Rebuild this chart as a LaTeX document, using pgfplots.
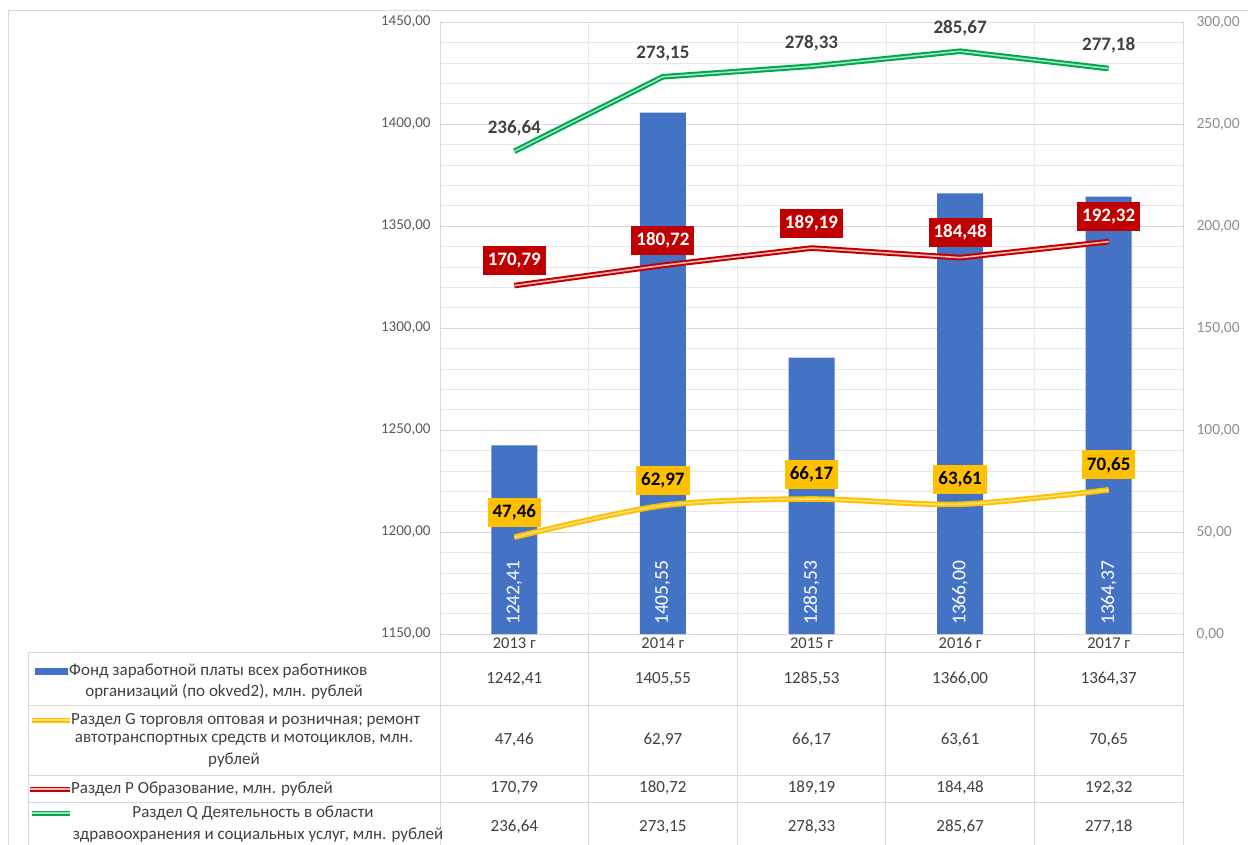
\documentclass[border=0pt]{standalone}
\usepackage{fontspec}
\setmainfont{Carlito}
\usepackage{pgfplots}
\pgfplotsset{compat=1.18}
\definecolor{barblue}{HTML}{4472C4}
\definecolor{gold}{HTML}{FFC000}
\definecolor{goldin}{HTML}{FFE07A}
\definecolor{dred}{HTML}{C00000}
\definecolor{redin}{HTML}{F4B6B6}
\definecolor{xgreen}{HTML}{00A651}
\definecolor{greenin}{HTML}{9FE3BC}
\definecolor{lefttick}{HTML}{595959}
\definecolor{righttick}{HTML}{8C8C8C}
\definecolor{gridc}{HTML}{D9D9D9}
\definecolor{txt}{HTML}{404040}
\newcommand{\fmt}[1]{\pgfmathprintnumber[fixed,fixed zerofill,precision=2,use comma,1000 sep={},assume math mode=true]{#1}}
\pgfplotsset{
  numfmt/.style={/pgf/number format/fixed, /pgf/number format/fixed zerofill,
    /pgf/number format/precision=2, /pgf/number format/use comma,
    /pgf/number format/1000 sep={}, /pgf/number format/assume math mode=true},
}

\begin{document}
\begin{tikzpicture}[x=1pt,y=1pt]
\path[use as bounding box] (0,0) rectangle (1248,-845);
\draw[gridc, line width=0.8pt] (8,-845) -- (8,-10) -- (1248,-10);

% ---------- left axis: bars ----------
\begin{axis}[
  at={(440pt,-634pt)}, anchor=south west,
  width=743pt, height=612pt, scale only axis,
  xmin=-0.5, xmax=4.5, ymin=1150, ymax=1450,
  xtick={0,1,2,3,4},
  xticklabels={2013 г,2014 г,2015 г,2016 г,2017 г},
  minor xtick={0.5,1.5,2.5,3.5},
  xminorgrids,
  ytick distance=50, minor y tick num=4,
  ymajorgrids, yminorgrids,
  major grid style={gridc, line width=0.8pt},
  minor grid style={gridc!60, line width=0.6pt},
  tick style={draw=none},
  axis line style={gridc, line width=0.8pt},
  numfmt,
  yticklabel style={font=\fontsize{15}{17}\selectfont, text=lefttick, xshift=-6pt},
  xticklabel style={font=\fontsize{16.5}{19}\selectfont, text=txt, anchor=base, inner sep=0pt, yshift=-14pt},
]
\addplot[ybar, bar width=46pt, fill=barblue, draw=none]
  coordinates {(0,1242.41) (1,1405.55) (2,1285.53) (3,1366.00) (4,1364.37)};
\addplot[draw=none, forget plot, point meta=explicit,
  nodes near coords={\fmt{\pgfplotspointmeta}},
  nodes near coords style={rotate=90, anchor=west, text=white,
    font=\fontsize{19.5}{21}\selectfont, inner xsep=9pt, inner ysep=0pt}]
  coordinates {(0,1150) [1242.41] (1,1150) [1405.55] (2,1150) [1285.53] (3,1150) [1366.00] (4,1150) [1364.37]};
\end{axis}

% ---------- right axis: lines ----------
\begin{axis}[
  at={(440pt,-634pt)}, anchor=south west,
  width=743pt, height=612pt, scale only axis,
  xmin=-0.5, xmax=4.5, ymin=0, ymax=300,
  axis x line=none, axis y line*=right,
  ytick distance=50,
  tick style={draw=none},
  axis line style={gridc, line width=0.8pt},
  numfmt,
  yticklabel style={font=\fontsize{15.5}{17}\selectfont, text=righttick, xshift=10pt},
  clip=false,
]
\addplot[gold, line width=2pt, double=goldin, double distance=1.6pt, line join=round, smooth, tension=0.5, mark=none,
  nodes near coords={\fmt{\pgfplotspointmeta}},
  nodes near coords style={anchor=center, yshift=25pt, fill=gold, text=black,
    font=\bfseries\fontsize{19}{21}\selectfont, inner xsep=5pt, minimum height=29pt}]
  coordinates {(0,47.46) (1,62.97) (2,66.17) (3,63.61) (4,70.65)};
\addplot[dred, line width=2pt, double=redin, double distance=1.6pt, line join=round, mark=none,
  nodes near coords={\fmt{\pgfplotspointmeta}},
  nodes near coords style={anchor=center, yshift=25pt, fill=dred, text=white,
    font=\bfseries\fontsize{19}{21}\selectfont, inner xsep=5pt, minimum height=29pt}]
  coordinates {(0,170.79) (1,180.72) (2,189.19) (3,184.48) (4,192.32)};
\addplot[xgreen, line width=2pt, double=greenin, double distance=1.6pt, line join=round, mark=none,
  nodes near coords={\fmt{\pgfplotspointmeta}},
  nodes near coords style={anchor=center, yshift=23pt, text=txt,
    font=\bfseries\fontsize{19}{21}\selectfont}]
  coordinates {(0,236.64) (1,273.15) (2,278.33) (3,285.67) (4,277.18)};
\end{axis}

% ---------- data table ----------
\begin{scope}[gridc, line width=0.8pt]
\foreach \yy in {652,705,775,802} \draw (28,-\yy) -- (1183,-\yy);
\draw (28,-652) -- (28,-845);
\foreach \xx in {440,588.6,737.2,885.8,1034.4,1183} \draw (\xx,-634) -- (\xx,-845);
\end{scope}

\begin{scope}[font=\fontsize{17}{20}\selectfont, text=txt]
\foreach \xx/\a/\b/\c/\d in {514.3/1242.41/47.46/170.79/236.64,
    662.9/1405.55/62.97/180.72/273.15,
    811.5/1285.53/66.17/189.19/278.33,
    960.1/1366.00/63.61/184.48/285.67,
    1108.7/1364.37/70.65/192.32/277.18}{
  \node at (\xx,-679) {\fmt{\a}};
  \node at (\xx,-740) {\fmt{\b}};
  \node at (\xx,-788) {\fmt{\c}};
  \node at (\xx,-827) {\fmt{\d}};
}
% legend keys
\fill[barblue] (35,-668) rectangle (68,-675);
\draw[gold, line width=1.8pt, double=goldin, double distance=1.4pt] (32,-720) -- (70,-720);
\draw[dred, line width=1.8pt, double=redin, double distance=1.4pt] (30,-789) -- (70,-789);
\draw[xgreen, line width=1.8pt, double=greenin, double distance=1.4pt] (32,-813) -- (70,-813);
% legend texts
\node[anchor=west, inner sep=0pt] at (69,-671) {Фонд заработной платы всех работников};
\node at (224,-692) {организаций (по okved2), млн. рублей};
\node[anchor=west, inner sep=0pt] at (71,-720) {Раздел G торговля оптовая и розничная; ремонт};
\node at (244,-740) {автотранспортных средств и мотоциклов, млн.};
\node at (234,-760) {рублей};
\node[anchor=west, inner sep=0pt] at (71,-789) {Раздел P Образование, млн. рублей};
\node at (253,-813) {Раздел Q Деятельность в области};
\node at (258,-835) {здравоохранения и социальных услуг, млн. рублей};
\end{scope}
\end{tikzpicture}
\end{document}
